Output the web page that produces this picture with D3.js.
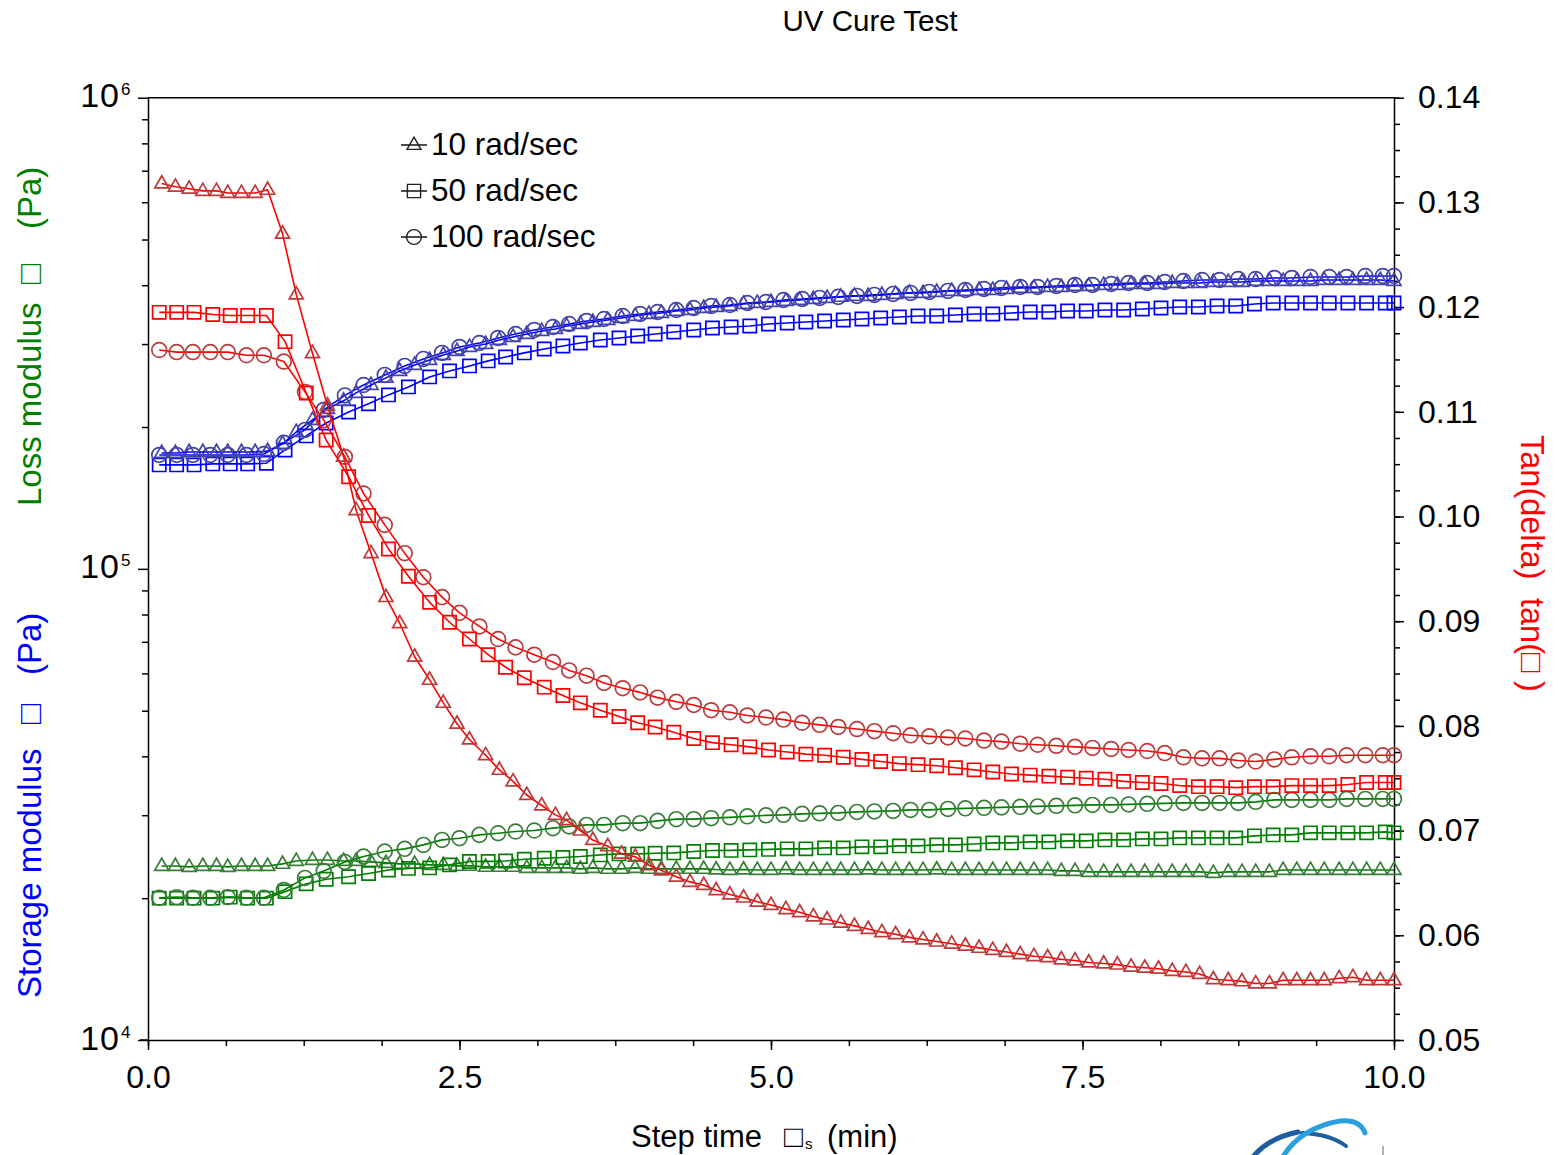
<!DOCTYPE html>
<html>
<head>
<meta charset="utf-8">
<script src="https://cdn.jsdelivr.net/npm/d3@7"></script>
<style>
  body { margin: 0; background: #fff; }
  svg { display: block; }
  text { font-family: "Liberation Sans", Arial, sans-serif; }
</style>
</head>
<body>
<svg id="chart" width="1561" height="1155"></svg>
<script>
// ---- sampling times (min) for each frequency ----
const time10 = [0.11,0.22,0.33,0.44,0.55,0.64,0.75,0.86,0.96,
  1.08,1.19,1.32,1.44,1.57,1.67,1.79,1.91,2.02,2.14,
  2.26,2.37,2.48,2.58,2.71,2.82,2.93,3.04,3.16,3.27,
  3.36,3.47,3.57,3.69,3.80,3.91,4.02,4.12,4.24,4.35,
  4.46,4.56,4.67,4.78,4.89,5.00,5.12,5.23,5.34,5.45,
  5.56,5.67,5.78,5.89,6.00,6.11,6.22,6.33,6.45,6.56,
  6.67,6.78,6.89,7.00,7.11,7.22,7.33,7.44,7.55,7.67,
  7.78,7.89,8.00,8.11,8.22,8.33,8.44,8.55,8.67,8.78,
  8.89,9.00,9.11,9.22,9.33,9.44,9.56,9.67,9.78,9.89,
  10.00];
const time50 = [0.09,0.23,0.37,0.52,0.66,0.80,0.95,
  1.10,1.27,1.43,1.61,1.77,1.93,2.09,2.26,2.42,2.58,
  2.73,2.87,3.02,3.18,3.33,3.47,3.63,3.78,3.93,4.07,
  4.22,4.38,4.53,4.68,4.83,4.98,5.13,5.28,5.43,5.58,
  5.73,5.88,6.03,6.18,6.33,6.48,6.63,6.78,6.93,7.08,
  7.23,7.38,7.53,7.68,7.83,7.98,8.13,8.28,8.43,8.58,
  8.73,8.88,9.03,9.18,9.33,9.48,9.63,9.78,9.93,10.00];
const time100 = [0.09,0.23,0.36,0.50,0.64,0.79,0.93,
  1.09,1.26,1.41,1.58,1.73,1.90,2.06,2.21,2.36,2.50,
  2.66,2.81,2.95,3.10,3.25,3.38,3.52,3.66,3.81,3.95,
  4.09,4.24,4.38,4.52,4.67,4.81,4.96,5.10,5.25,5.39,
  5.54,5.69,5.83,5.98,6.12,6.27,6.42,6.56,6.71,6.85,
  7.00,7.14,7.29,7.44,7.58,7.73,7.87,8.02,8.16,8.31,
  8.46,8.60,8.75,8.89,9.04,9.18,9.33,9.48,9.62,9.77,
  9.91,10.00];

// ---- storage modulus G' (Pa) ----
const storage10 = [176200,176200,177000,177000,177000,177000,177000,177000,177800,
  184200,195200,207000,218500,227300,236300,245600,254300,263100,270900,
  277600,284500,290100,295800,300100,306100,310600,315100,319800,322900,
  327700,330900,334100,337400,340800,344100,347500,349200,352600,354300,
  357800,359600,361300,364900,366700,368500,370300,372100,374000,375900,
  377800,379600,379600,381500,383300,385200,385200,387100,389000,389000,
  390800,390800,392700,394700,394700,396600,396600,398500,398500,400500,
  400500,402400,402400,402400,404400,404400,404400,406300,406300,406300,
  408300,408300,408300,408300,408300,410300,410300,410300,410300,410300,
  408300];
const storage50 = [166200,166200,166200,167000,167000,167000,167600,
  178800,191500,204000,215300,224000,234000,243300,255500,263100,269600,
  276300,281700,287300,292900,297200,301600,306100,309100,312100,315100,
  318300,321400,324500,326100,327700,330900,332500,334100,335700,337400,
  339100,340800,342400,344100,344100,345800,347500,347500,349200,350900,
  350900,352600,352600,354300,354300,356100,357800,359600,359600,361300,
  361300,364900,366700,366700,366700,366700,366700,366700,366700,366700];
const storage100 = [174500,174500,174500,174500,174500,174500,175300,
  185100,197200,217400,233400,245600,258000,269600,279000,287300,295800,
  301600,309100,315100,321400,326100,330900,335700,339100,344100,347500,
  350900,354300,357800,361300,363100,366700,368500,372100,374000,375900,
  377800,379600,381500,383300,385200,387100,389000,390800,392700,394700,
  396600,396600,398500,400500,400500,402400,404400,404400,406300,408300,
  410300,410300,412300,412300,414400,414400,416400,416400,416400,418400,
  418400,418400];

// ---- loss modulus G'' (Pa) ----
const loss10 = [23400,23400,23300,23400,23400,23300,23400,23400,23400,
  23650,23990,24110,24110,23990,23990,23880,23760,23650,23650,
  23530,23530,23420,23420,23310,23310,23310,23190,23190,23190,
  23190,23080,23190,23080,23080,23190,23080,23080,23080,23080,
  23080,23000,22960,23000,22960,22960,23000,22960,22960,22960,
  22960,22960,23000,22960,22960,22960,22960,23000,22960,22960,
  22960,22960,22960,22960,22960,22960,22850,22850,22740,22740,
  22740,22740,22740,22740,22740,22740,22740,22630,22740,22740,
  22740,22740,22960,22960,22960,22960,22960,22960,22960,22960,
  22960];
const loss50 = [20000,20000,20000,20000,20100,20000,20000,
  20650,21450,21940,22200,22560,22960,23130,23190,23530,23920,
  23940,23990,24190,24310,24390,24510,24710,24830,24830,24910,
  24950,25120,25240,25260,25320,25380,25450,25450,25570,25570,
  25700,25700,25820,25820,25950,25950,26070,26200,26200,26330,
  26330,26460,26460,26590,26590,26720,26720,26850,26850,26850,
  26850,27120,27250,27250,27520,27520,27520,27520,27650,27520];
const loss100 = [20030,20100,20030,20030,20100,20030,20030,
  20820,22080,22850,23880,24510,25120,25450,25950,26590,26810,
  27250,27470,27700,27840,28160,28390,28610,28610,28860,28860,
  29180,29430,29430,29570,29690,29830,29980,30050,30200,30270,
  30340,30490,30560,30640,30790,30790,30940,31020,31100,31170,
  31250,31320,31400,31480,31550,31550,31630,31710,31790,31860,
  31860,31860,31860,32020,32330,32330,32330,32330,32490,32490,
  32490,32490];

// ---- tan(delta) ----
const tan10 = [0.1318,0.1315,0.1313,0.1311,0.1311,0.1309,0.1309,0.1309,0.1312,
  0.1270,0.1212,0.1156,0.1106,0.1057,0.1006,0.0965,0.0923,0.0898,0.0866,
  0.0844,0.0822,0.0802,0.0787,0.0772,0.0758,0.0747,0.0734,0.0724,0.0715,
  0.0710,0.0700,0.0691,0.0685,0.0678,0.0675,0.0667,0.0662,0.0656,0.0651,
  0.0648,0.0643,0.0639,0.0636,0.0632,0.0629,0.0625,0.0622,0.0618,0.0615,
  0.0612,0.0609,0.0606,0.0603,0.0601,0.0598,0.0596,0.0594,0.0592,0.0590,
  0.0588,0.0586,0.0584,0.0582,0.0580,0.0579,0.0577,0.0576,0.0574,0.0573,
  0.0572,0.0570,0.0569,0.0568,0.0566,0.0565,0.0563,0.0558,0.0557,0.0556,
  0.0554,0.0554,0.0557,0.0557,0.0557,0.0557,0.0559,0.0560,0.0557,0.0557,
  0.0557];
const tan50 = [0.1195,0.1195,0.1195,0.1193,0.1192,0.1192,0.1192,
  0.1167,0.1118,0.1073,0.1038,0.1001,0.0969,0.0943,0.0918,0.0899,0.0883,
  0.0868,0.0856,0.0846,0.0837,0.0829,0.0822,0.0815,0.0809,0.0803,0.0799,
  0.0794,0.0788,0.0784,0.0782,0.0780,0.0777,0.0775,0.0773,0.0772,0.0770,
  0.0768,0.0766,0.0764,0.0763,0.0762,0.0760,0.0758,0.0756,0.0754,0.0753,
  0.0752,0.0751,0.0750,0.0749,0.0747,0.0746,0.0745,0.0743,0.0742,0.0742,
  0.0741,0.0742,0.0742,0.0743,0.0743,0.0743,0.0744,0.0746,0.0746,0.0746];
const tan100 = [0.1159,0.1157,0.1157,0.1157,0.1157,0.1154,0.1154,
  0.1148,0.1119,0.1092,0.1057,0.1022,0.0992,0.0965,0.0942,0.0923,0.0908,
  0.0895,0.0883,0.0875,0.0868,0.0861,0.0853,0.0848,0.0841,0.0836,0.0832,
  0.0827,0.0823,0.0820,0.0815,0.0813,0.0810,0.0808,0.0806,0.0803,0.0801,
  0.0799,0.0797,0.0795,0.0793,0.0791,0.0790,0.0789,0.0788,0.0786,0.0785,
  0.0783,0.0782,0.0781,0.0780,0.0779,0.0778,0.0777,0.0776,0.0774,0.0770,
  0.0769,0.0769,0.0767,0.0766,0.0768,0.0770,0.0771,0.0771,0.0772,0.0772,
  0.0772,0.0772];

const legendLabels = ["10 rad/sec", "50 rad/sec", "100 rad/sec"];
const xTickValues = [0, 2.5, 5, 7.5, 10];
const tanTickValues = [0.05,0.06,0.07,0.08,0.09,0.10,0.11,0.12,0.13,0.14];
const decades = [4, 5, 6];

// ---- layout ----
const svg = d3.select("#chart");
const plot = { left: 148, right: 1394, top: 97.7, bottom: 1040 };

const x = d3.scaleLinear().domain([0, 10]).range([plot.left, plot.right]);
const yMod = d3.scaleLog().domain([1e4, 1e6]).range([plot.bottom, plot.top]);
const yTan = d3.scaleLinear().domain([0.05, 0.14]).range([plot.bottom, plot.top]);

const BLUE = "#0000ff", GREEN = "#008000", RED = "#ff0000";
// hollow circle / triangle markers render a little darker than the lines
const soft = { [BLUE]: "#4343ab", [GREEN]: "#3a7d3a", [RED]: "#bd3a3a" };

const AXIS_FONT = 32;

// ---- axes ----
const axisStyle = g => {
  g.selectAll("path.domain").attr("stroke", "#000").attr("stroke-width", 1.5);
  g.selectAll(".tick line").attr("stroke", "#000").attr("stroke-width", 1.5);
  g.selectAll("text").attr("fill", "#000").style("font-size", AXIS_FONT + "px")
    .style("font-family", '"Liberation Sans", Arial, sans-serif');
};

// bottom
svg.append("g").attr("transform", `translate(0,${plot.bottom})`)
  .call(d3.axisBottom(x).tickValues(d3.range(0, 10.001, 0.625)).tickSize(6).tickSizeOuter(0).tickFormat(""))
  .call(axisStyle).select("path.domain").remove();
svg.append("g").attr("transform", `translate(0,${plot.bottom})`)
  .call(d3.axisBottom(x).tickValues(xTickValues).tickSize(10).tickSizeOuter(0).tickPadding(15).tickFormat(d3.format(".1f")))
  .call(axisStyle);

// left (log)
const minorLog = [];
decades.forEach(p => { if (p < 6) for (let m = 2; m <= 9; m++) minorLog.push(m * Math.pow(10, p)); });
svg.append("g").attr("transform", `translate(${plot.left},0)`)
  .call(d3.axisLeft(yMod).tickValues(minorLog).tickSize(6).tickSizeOuter(0).tickFormat(""))
  .call(axisStyle).select("path.domain").remove();
svg.append("g").attr("transform", `translate(${plot.left},0)`)
  .call(d3.axisLeft(yMod).tickValues(decades.map(p => Math.pow(10, p))).tickSize(10).tickSizeOuter(0).tickFormat(""))
  .call(axisStyle);
// x axis line reaches slightly past the left axis
svg.append("line").attr("x1", plot.left - 8).attr("x2", plot.left)
  .attr("y1", plot.bottom).attr("y2", plot.bottom).attr("stroke", "#000").attr("stroke-width", 1.5);

const decLabels = svg.append("g");
decades.forEach(p => {
  const yy = yMod(Math.pow(10, p));
  decLabels.append("text").attr("x", 120).attr("y", yy + 9.5)
    .attr("text-anchor", "end").style("font-size", "34px").style("letter-spacing", "1px")
    .attr("fill", "#000").text("10");
  decLabels.append("text").attr("x", 121).attr("y", yy - 2.5)
    .style("font-size", "17px").attr("fill", "#000").text(p);
});

// right (tan delta)
svg.append("g").attr("transform", `translate(${plot.right},0)`)
  .call(d3.axisRight(yTan).tickValues(d3.range(0.05, 0.14001, 0.0025)).tickSize(6).tickSizeOuter(0).tickFormat(""))
  .call(axisStyle).select("path.domain").remove();
svg.append("g").attr("transform", `translate(${plot.right},0)`)
  .call(d3.axisRight(yTan).tickValues(tanTickValues).tickSize(10).tickSizeOuter(0).tickPadding(14).tickFormat(d3.format(".2f")))
  .call(axisStyle);

// top frame line
svg.append("line").attr("x1", plot.left).attr("x2", plot.right)
  .attr("y1", plot.top).attr("y2", plot.top).attr("stroke", "#000").attr("stroke-width", 1.5);

// ---- marker shapes ----
const shapes = {
  triangle: "M0,-7.8L7,4.4L-7,4.4Z",
  square: "M-6.6,-6.6H6.6V6.6H-6.6Z",
  circle: d3.symbol(d3.symbolCircle, Math.PI * 7.4 * 7.4)()
};

function drawSeries(times, values, yScale, color, shape) {
  const pts = times.map((t, i) => [x(t), yScale(values[i])]);
  const g = svg.append("g");
  g.append("path").attr("d", d3.line()(pts))
    .attr("fill", "none").attr("stroke", color).attr("stroke-width", 1.6)
    .attr("stroke-linejoin", "round");
  const mc = shape === "square" ? color : soft[color];
  g.selectAll("path.mk").data(pts).join("path").attr("class", "mk")
    .attr("d", shapes[shape]).attr("transform", d => `translate(${d[0]},${d[1]})`)
    .attr("fill", "none").attr("stroke", mc).attr("stroke-width", 1.7);
}

// loss modulus (green)
drawSeries(time10, loss10, yMod, GREEN, "triangle");
drawSeries(time50, loss50, yMod, GREEN, "square");
drawSeries(time100, loss100, yMod, GREEN, "circle");
// storage modulus (blue)
drawSeries(time50, storage50, yMod, BLUE, "square");
drawSeries(time100, storage100, yMod, BLUE, "circle");
drawSeries(time10, storage10, yMod, BLUE, "triangle");
// tan delta (red)
drawSeries(time100, tan100, yTan, RED, "circle");
drawSeries(time50, tan50, yTan, RED, "square");
drawSeries(time10, tan10, yTan, RED, "triangle");

// ---- legend ----
const legendShapes = ["triangle", "square", "circle"];
legendLabels.forEach((lab, i) => {
  const cy = 145 + i * 46;
  const g = svg.append("g");
  g.append("line").attr("x1", 401).attr("x2", 427).attr("y1", cy).attr("y2", cy)
    .attr("stroke", "#000").attr("stroke-width", 1.4);
  g.append("path").attr("d", shapes[legendShapes[i]]).attr("transform", `translate(414,${cy})`)
    .attr("fill", "none").attr("stroke", "#222").attr("stroke-width", 1.4);
  g.append("text").attr("x", 431).attr("y", cy + 9.5).style("font-size", "31.5px")
    .attr("fill", "#000").text(lab);
});

// ---- titles ----
svg.append("text").attr("x", 870).attr("y", 31).attr("text-anchor", "middle")
  .style("font-size", "29.5px").attr("fill", "#000").text("UV Cure Test");

// x title, laid out piece by piece
const xt = svg.append("text").attr("y", 1147).style("font-size", "31px").attr("fill", "#000");
xt.append("tspan").attr("x", 631).text("Step time");
xt.append("tspan").attr("x", 784).text("\u25A1");
xt.append("tspan").attr("x", 805).attr("dy", 2).style("font-size", "15px").text("s");
xt.append("tspan").attr("x", 827).attr("dy", -2).text("(min)");

// left titles (reading upward)
function leftTitle(color, parts) {
  const t = svg.append("text").attr("transform", "translate(41,0) rotate(-90)")
    .style("font-size", "33px").attr("fill", color);
  parts.forEach(([yStart, str]) => t.append("tspan").attr("x", -yStart).text(str));
}
leftTitle(BLUE, [[998, "Storage modulus"], [724, "\u25A1"], [675, "(Pa)"]]);
leftTitle(GREEN, [[506, "Loss modulus"], [284, "\u25A1"], [229, "(Pa)"]]);

// right title (reading downward)
const rt = svg.append("text").attr("transform", "translate(1521,0) rotate(90)")
  .style("font-size", "32.5px").attr("fill", RED);
rt.append("tspan").attr("x", 435).text("Tan(delta)");
rt.append("tspan").attr("x", 598).text("tan(");
rt.append("tspan").attr("x", 653).text("\u25A1");
rt.append("tspan").attr("x", 681).text(")");

// ---- corner logo ----
const logo = svg.append("g");
logo.append("path").attr("d", "M1252,1158 Q1268,1138 1298,1132")
  .attr("fill", "none").attr("stroke", "#1f5f9f").attr("stroke-width", 5).attr("stroke-linecap", "round");
logo.append("path").attr("d", "M1302,1133 Q1330,1134 1346,1146")
  .attr("fill", "none").attr("stroke", "#1f5f9f").attr("stroke-width", 4).attr("stroke-linecap", "round");
logo.append("path").attr("d", "M1282,1158 Q1300,1128 1340,1121 Q1360,1119 1365,1133")
  .attr("fill", "none").attr("stroke", "#2aa0dc").attr("stroke-width", 5).attr("stroke-linecap", "round");
logo.append("line").attr("x1", 1383).attr("x2", 1383).attr("y1", 1146).attr("y2", 1155)
  .attr("stroke", "#999").attr("stroke-width", 1.5);
</script>
</body>
</html>
